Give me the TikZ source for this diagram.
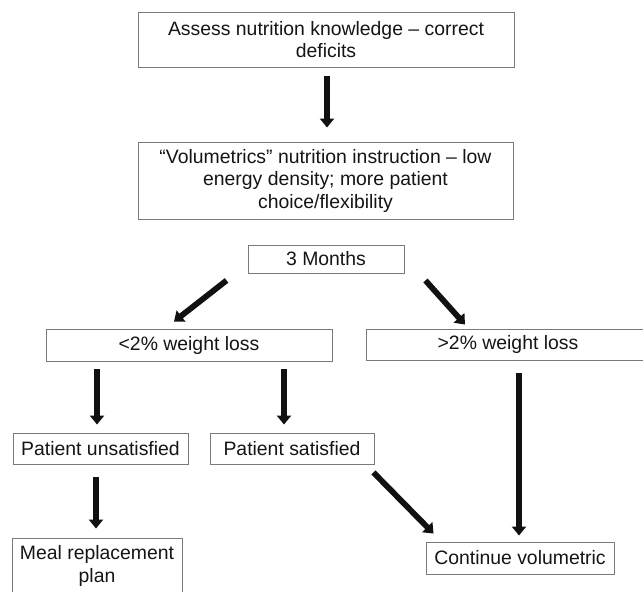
\documentclass[tikz,border=0pt]{standalone}
\usepackage{fontspec}
\setmainfont{Liberation Sans}
\usetikzlibrary{arrows.meta}
\definecolor{boxline}{HTML}{7A7A7A}
\definecolor{arrowc}{HTML}{111111}
\definecolor{txt}{HTML}{151515}
\begin{document}
\begin{tikzpicture}[x=1pt,y=-1pt,
  box/.style={draw=boxline, line width=0.9pt, fill=white, inner sep=0pt, align=center, text=txt, font=\fontsize{19.4}{22.5}\selectfont},
  arr/.style={draw=arrowc, line width=5.8pt, -{Triangle[width=14pt,length=9pt]}}]
\useasboundingbox (0,0) rectangle (643,592);
\clip (0,0) rectangle (643,592);
\node[box, minimum width=376pt, minimum height=55pt] (b1) at (326,39.5) {Assess nutrition knowledge – correct\\deficits};
\node[box, minimum width=375pt, minimum height=77pt] (b2) at (325.5,180.5) {“Volumetrics” nutrition instruction – low\\energy density; more patient\\choice/flexibility};
\node[box, minimum width=156pt, minimum height=28pt] (b3) at (326,259) {3 Months};
\node[box, minimum width=286pt, minimum height=32pt] (b4) at (189,345) {<2\% weight loss};
\node[box, minimum width=284pt, minimum height=31pt] (b5) at (508,344.5) {>2\% weight loss};
\node[box, minimum width=175pt, minimum height=31pt] (b6) at (100.5,448.5) {Patient unsatisfied};
\node[box, minimum width=164pt, minimum height=31pt] (b7) at (292,448.5) {Patient satisfied};
\node[box, minimum width=170pt, minimum height=56pt] (b8) at (97,566) {Meal replacement\\plan};
\node[box, minimum width=188pt, minimum height=32pt] (b9) at (520,558) {Continue volumetric};
% connectors
\draw[arr, shorten <=9pt, shorten >=14pt] ([xshift=1pt]b1.south) -- ([xshift=1pt]b1.south |- b2.north);
\draw[arr] ([xshift=-21pt,yshift=-7pt]b3.south west) -- ([xshift=-15pt,yshift=7pt]b4.north);
\draw[arr] ([xshift=21pt,yshift=-7pt]b3.south east) -- ([xshift=-43pt,yshift=4pt]b5.north);
\draw[arr, shorten <=8pt, shorten >=8pt] ([xshift=-3.5pt]b6.north |- b4.south) -- ([xshift=-3.5pt]b6.north);
\draw[arr, shorten <=8pt, shorten >=8pt] ([xshift=-8pt]b7.north |- b4.south) -- ([xshift=-8pt]b7.north);
\draw[arr, shorten <=13pt, shorten >=6pt] ([xshift=-1pt]b9.north |- b5.south) -- ([xshift=-1pt]b9.north);
\draw[arr, shorten <=13pt, shorten >=9pt] ([xshift=-4.5pt]b6.south) -- ([xshift=-4.5pt]b6.south |- b8.north);
\draw[arr] ([xshift=-1pt,yshift=-8pt]b7.south east) -- ([xshift=8pt,yshift=8pt]b9.north west);
\end{tikzpicture}
\end{document}
